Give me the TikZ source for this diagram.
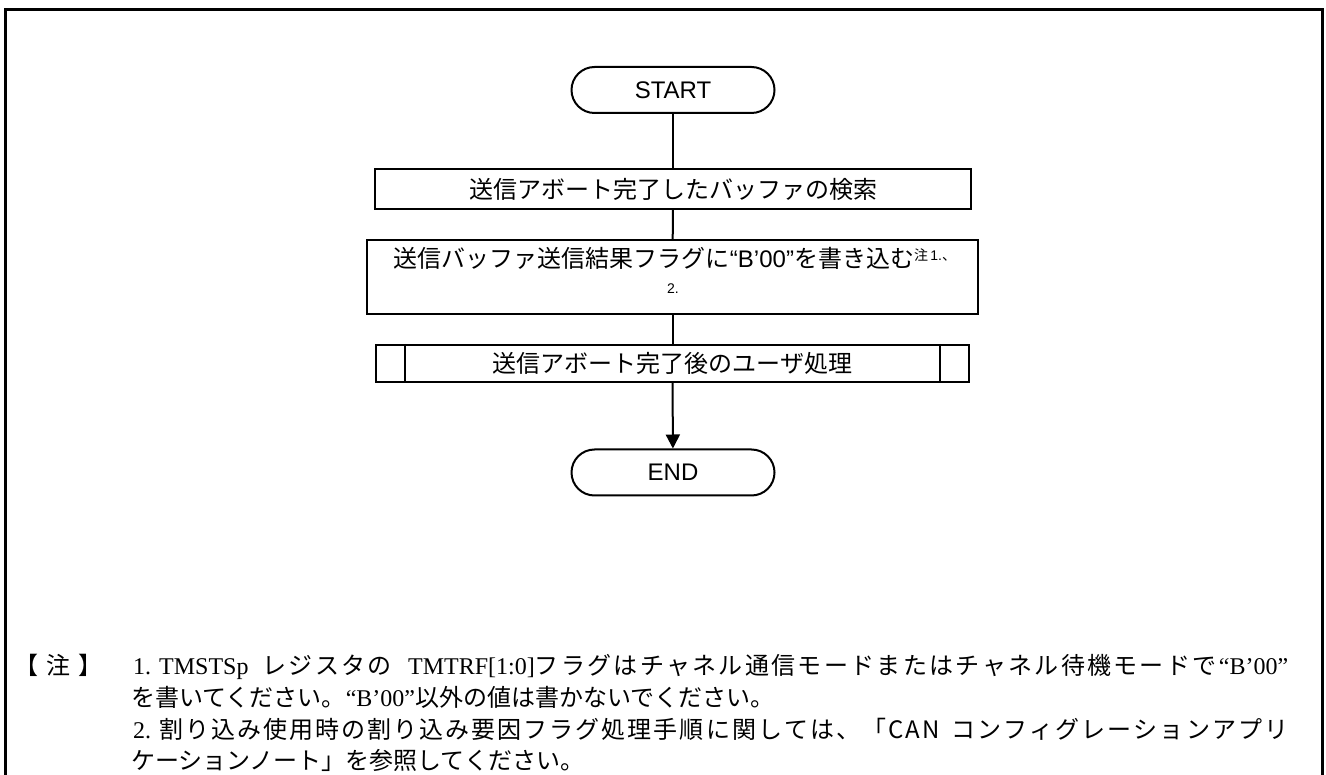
\documentclass[tikz,border=0pt]{standalone}
\usepackage{fontspec}
\setmainfont{Liberation Serif}
\newfontfamily\sansf{Liberation Sans}
\newfontfamily\jpf{Noto Sans CJK JP}
\usetikzlibrary{arrows.meta}
\newcommand\JP[1]{{\jpf #1}}
\ExplSyntaxOn
\cs_new:Npn \my_spread:n #1 { \tl_map_inline:nn {#1} { ##1 \hskip 0pt plus 1fil } }
\NewDocumentCommand\SPR{m}{\my_spread:n{#1}}
\ExplSyntaxOff
\tikzset{
  flow/.style={draw, line width=2pt, inner sep=0pt, font=\sansf\fontsize{24}{24}\selectfont},
  term/.style={flow, rounded corners=23pt, minimum width=203pt, minimum height=46pt},
  proc/.style={flow, rectangle},
  conn/.style={line width=2pt},
  note/.style={anchor=base west, inner sep=0pt, font=\fontsize{24}{24}\selectfont},
  txt/.style={inner sep=0pt, font=\sansf\fontsize{24}{24}\selectfont}
}
\begin{document}
\begin{tikzpicture}[x=1pt,y=-1pt]
\useasboundingbox (0,0) rectangle (1326,775);
% outer frame
\draw[line width=3pt] (5,780) -- (5,10) -- (1322,10) -- (1322,780);
% flowchart
\node[term] (start) at (673,90) {START};
\node[proc, minimum width=596pt, minimum height=40pt] (b1) at (673,189) {\JP{送信アボート完了したバッファの検索}};
\node[proc, minimum width=611pt, minimum height=74pt] (b2) at (672.5,277) {};
\node[txt] (b2t) at (675,258) {\JP{送信バッファ送信結果フラグに}“B’00”\JP{を書き込む}\raisebox{7pt}{\fontsize{14}{14}\selectfont\JP{注}\,1.\JP{、}}};
\node[txt, font=\sansf\fontsize{14}{14}\selectfont] (b2n) at (673,289) {2.};
\node[proc, minimum width=593pt, minimum height=37pt] (b3) at (672.5,363.5) {\JP{送信アボート完了後のユーザ処理}};
\draw[line width=2pt] ([xshift=30pt]b3.north west) -- ([xshift=30pt]b3.south west);
\draw[line width=2pt] ([xshift=-30pt]b3.north east) -- ([xshift=-30pt]b3.south east);
\node[term] (end) at (673,472.5) {END};
\draw[conn] (start) -- (b1);
\draw[conn] (b1) -- (b2);
\draw[conn] (b2) -- (b3);
\draw[conn, -{Triangle[length=14pt,width=14pt]}] (b3) -- (end);
% notes
\node[note] (n0) at (14,674) {\makebox[96pt][s]{\JP{\SPR{【注】}}}};
\node[note] (n1) at (133,674) {\makebox[1155pt][s]{1.\hspace*{8pt}TMSTSp\hspace*{14pt}\JP{\SPR{レジスタの}}\hspace*{14pt}TMTRF[1:0]\JP{\SPR{フラグはチャネル通信モードまたはチャネル待機モードで}}“B’00”}};
\node[note] (n2) at (131,706) {\JP{を書いてください。}“B’00”\JP{以外の値は書かないでください。}};
\node[note] (n3) at (133,738) {\makebox[1157pt][s]{2.\hspace*{8pt}\JP{\SPR{割り込み使用時の割り込み要因フラグ処理手順に関しては、「CAN}\hspace*{10pt}\SPR{コンフィグレーションアプリ}}}};
\node[note] (n4) at (131,769) {\JP{ケーションノート」を参照してください。}};
\end{tikzpicture}
\end{document}
